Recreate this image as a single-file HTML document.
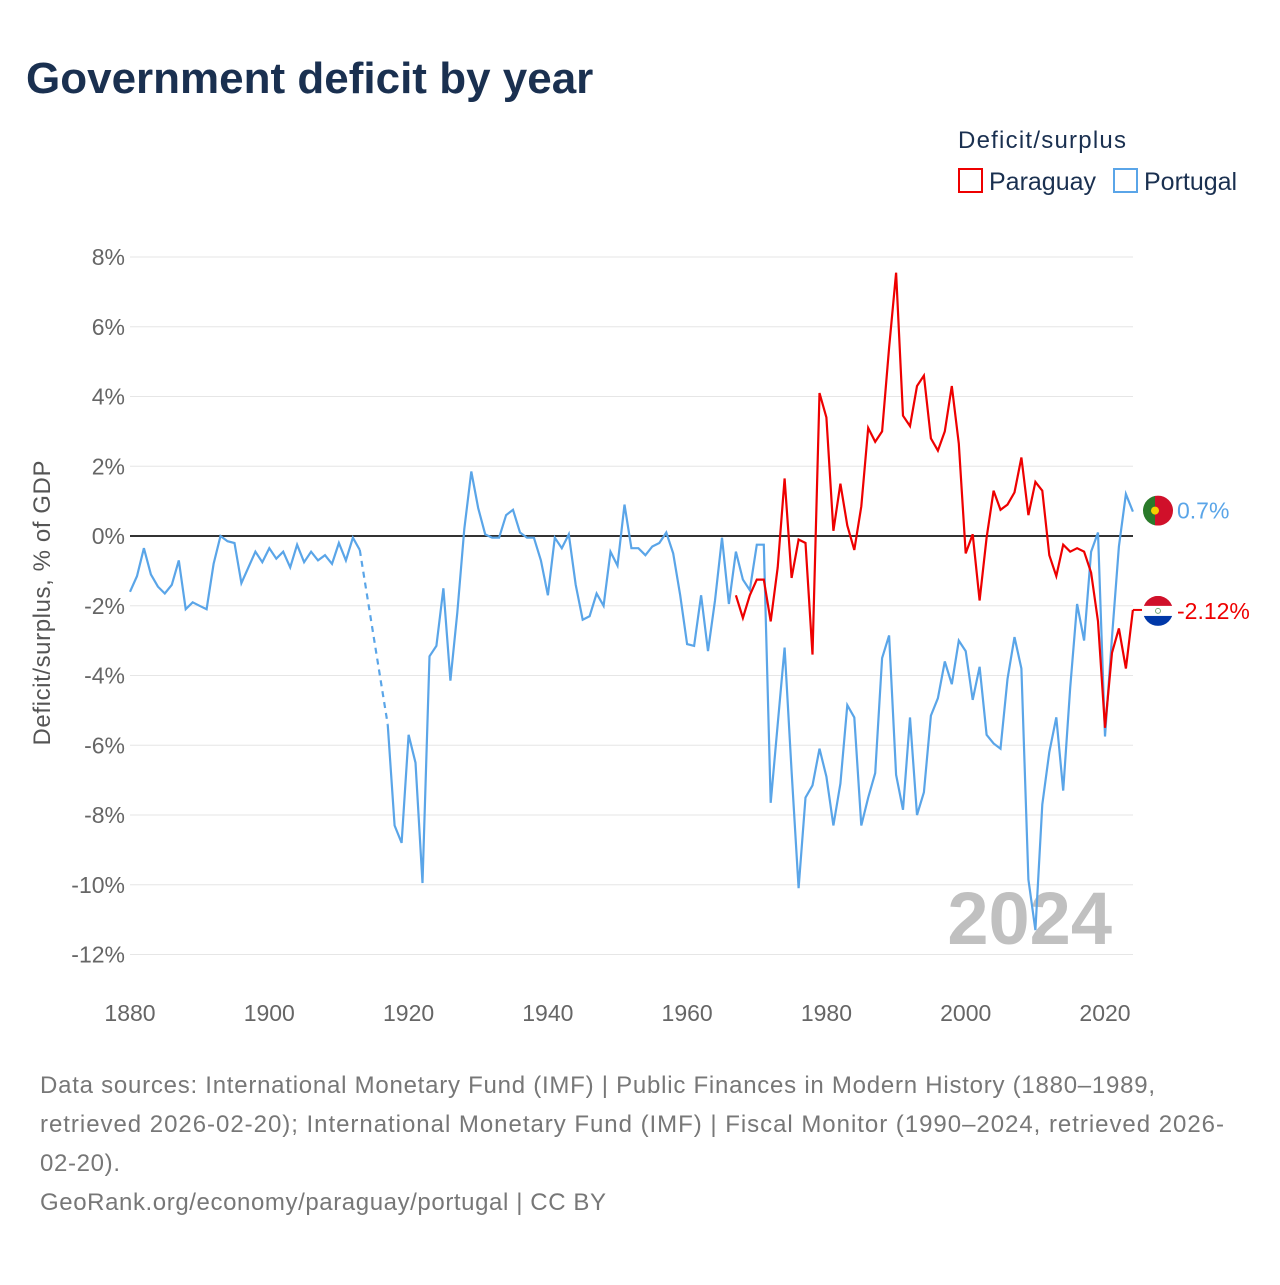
<!DOCTYPE html>
<html><head><meta charset="utf-8"><style>
body{margin:0;background:#fff;font-family:"Liberation Sans",sans-serif;}
svg text{font-family:"Liberation Sans",sans-serif;}
</style></head><body>
<svg id="chart" width="1280" height="1280" xmlns="http://www.w3.org/2000/svg">
<text x="26" y="93" font-size="44" font-weight="bold" fill="#1a3050">Government deficit by year</text>
<text x="958" y="148" font-size="24" fill="#1a3050" textLength="168">Deficit/surplus</text>
<g><rect x="959" y="169" width="23" height="23" fill="none" stroke="#e00" stroke-width="2"/><text x="989" y="190" font-size="25" fill="#1a3050">Paraguay</text></g>
<g><rect x="1114" y="169" width="23" height="23" fill="none" stroke="#5aa5e8" stroke-width="2"/><text x="1144" y="190" font-size="25" fill="#1a3050">Portugal</text></g>
<g id="grid"></g><g id="yticks"></g><g id="xticks"></g>
<text x="1112" y="944" font-size="74" font-weight="bold" fill="#c0c0c0" text-anchor="end">2024</text>
<text transform="translate(50,603) rotate(-90)" font-size="24" fill="#555" text-anchor="middle" textLength="285">Deficit/surplus, % of GDP</text>
<g id="series"></g>
<g id="endlabels"></g>
<text x="40" y="1093" font-size="24" fill="#777" textLength="1115">Data sources: International Monetary Fund (IMF) | Public Finances in Modern History (1880–1989,</text>
<text x="40" y="1132" font-size="24" fill="#777" textLength="1184">retrieved 2026-02-20); International Monetary Fund (IMF) | Fiscal Monitor (1990–2024, retrieved 2026-</text>
<text x="40" y="1171" font-size="24" fill="#777" textLength="80">02-20).</text>
<text x="40" y="1210" font-size="24" fill="#777" textLength="566">GeoRank.org/economy/paraguay/portugal | CC BY</text>
</svg>
<script>
const yTicks=[8,6,4,2,0,-2,-4,-6,-8,-10,-12];
const xTicks=[1880,1900,1920,1940,1960,1980,2000,2020];
const portugalYears1=[1880,1881,1882,1883,1884,1885,1886,1887,1888,1889,1890,1891,1892,1893,1894,1895,1896,1897,1898,1899,1900,1901,1902,1903,1904,1905,1906,1907,1908,1909,1910,1911,1912,1913];
const portugalValues1=[-1.6,-1.15,-0.35,-1.1,-1.45,-1.65,-1.4,-0.7,-2.1,-1.9,-2.0,-2.1,-0.8,0,-0.15,-0.2,-1.35,-0.9,-0.45,-0.75,-0.35,-0.65,-0.45,-0.9,-0.25,-0.75,-0.45,-0.7,-0.55,-0.8,-0.2,-0.7,-0.05,-0.4];
const portugalStart2=1917;
const portugalValues2=[-5.4,-8.3,-8.8,-5.7,-6.5,-9.95,-3.45,-3.15,-1.5,-4.15,-2.2,0.2,1.85,0.8,0.05,-0.05,-0.05,0.6,0.75,0.1,-0.05,-0.05,-0.7,-1.7,-0.05,-0.35,0.05,-1.4,-2.4,-2.3,-1.65,-2.0,-0.45,-0.85,0.9,-0.35,-0.35,-0.55,-0.3,-0.2,0.1,-0.5,-1.7,-3.1,-3.15,-1.7,-3.3,-1.85,-0.05,-1.95,-0.45,-1.25,-1.55,-0.25,-0.25,-7.65,-5.4,-3.2,-6.75,-10.1,-7.5,-7.15,-6.1,-6.9,-8.3,-7.1,-4.85,-5.2,-8.3,-7.5,-6.8,-3.5,-2.85,-6.85,-7.85,-5.2,-8.0,-7.35,-5.15,-4.65,-3.6,-4.25,-3.0,-3.3,-4.7,-3.75,-5.7,-5.95,-6.1,-4.1,-2.9,-3.8,-9.85,-11.3,-7.7,-6.2,-5.2,-7.3,-4.35,-1.95,-3.0,-0.45,0.1,-5.75,-2.9,-0.3,1.2,0.7];
const paraguayStart=1967;
const paraguayValues=[-1.7,-2.35,-1.7,-1.25,-1.25,-2.45,-0.9,1.65,-1.2,-0.1,-0.2,-3.4,4.1,3.4,0.15,1.5,0.3,-0.4,0.85,3.1,2.7,3.0,5.4,7.55,3.45,3.15,4.3,4.6,2.8,2.45,3.0,4.3,2.65,-0.5,0.05,-1.85,-0.05,1.3,0.75,0.9,1.25,2.25,0.6,1.55,1.3,-0.55,-1.15,-0.25,-0.45,-0.35,-0.45,-1.05,-2.45,-5.5,-3.35,-2.65,-3.8,-2.12];
const NS="http://www.w3.org/2000/svg";
const X=y=>130+(y-1880)*975/140;
const Y=v=>536-v*34.875;
function el(tag,attrs,parent,text){const e=document.createElementNS(NS,tag);for(const k in attrs)e.setAttribute(k,attrs[k]);if(text!==undefined)e.textContent=text;document.getElementById(parent).appendChild(e);return e;}
yTicks.forEach(t=>{
 const l=el('line',{x1:130,x2:1133,y1:Y(t),y2:Y(t),stroke:t===0?'#333':'#e6e6e6','stroke-width':t===0?2:1},'grid');
 
 
 const tx=el('text',{x:125,y:Y(t)+8,'font-size':23,fill:'#666','text-anchor':'end'},'yticks',t+'%');
 
 
});
xTicks.forEach(t=>{
 const tx=el('text',{x:X(t),y:1021,'font-size':23,fill:'#666','text-anchor':'middle'},'xticks',String(t));
 
 
});
function path(pts){return pts.map((p,i)=>(i?'L':'M')+X(p[0]).toFixed(1)+','+Y(p[1]).toFixed(1)).join('');}
const p1=path(portugalYears1.map((y,i)=>[y,portugalValues1[i]]));
const p2=portugalValues2.map((v,i)=>[portugalStart2+i,v]);
const pa=paraguayValues.map((v,i)=>[paraguayStart+i,v]);
let e=el('path',{d:p1,fill:'none',stroke:'#5aa5e8','stroke-width':2.2},'series');


e=el('path',{d:path([[1913,portugalValues1[portugalValues1.length-1]],[portugalStart2,portugalValues2[0]]]),fill:'none',stroke:'#5aa5e8','stroke-width':2.2,'stroke-dasharray':'6,5'},'series');


e=el('path',{d:path(p2),fill:'none',stroke:'#5aa5e8','stroke-width':2.2},'series');


e=el('path',{d:path(pa),fill:'none',stroke:'#e00','stroke-width':2.2},'series');


const ptLast=portugalValues2[portugalValues2.length-1], paLast=paraguayValues[paraguayValues.length-1];
const fy1=Y(ptLast)-1, fy2=Y(paLast)+1;
let g=el('g',{},'endlabels');


g.innerHTML=`<clipPath id="c1"><circle cx="1158" cy="${fy1}" r="15"/></clipPath><g clip-path="url(#c1)"><rect x="1143" y="${fy1-15}" width="12" height="30" fill="#2a7a2a"/><rect x="1155" y="${fy1-15}" width="18" height="30" fill="#d0102a"/><circle cx="1155" cy="${fy1}" r="4" fill="#f5d000"/></g>`;
e=el('text',{x:1177,y:fy1+8,'font-size':23,fill:'#5aa5e8'},'endlabels',ptLast+'%');


g=el('g',{},'endlabels');


g.innerHTML=`<clipPath id="c2"><circle cx="1158" cy="${fy2}" r="15"/></clipPath><g clip-path="url(#c2)"><rect x="1143" y="${fy2-15}" width="30" height="10" fill="#d0102a"/><rect x="1143" y="${fy2-5}" width="30" height="10" fill="#fff"/><rect x="1143" y="${fy2+5}" width="30" height="10" fill="#0038a8"/><circle cx="1158" cy="${fy2}" r="2.5" fill="none" stroke="#7a7" stroke-width="1"/></g><line x1="1133" y1="${Y(paLast)}" x2="1142" y2="${Y(paLast)}" stroke="#e00" stroke-width="2"/>`;
e=el('text',{x:1177,y:fy2+8,'font-size':23,fill:'#e00'},'endlabels',paLast+'%');


</script>
</body></html>
